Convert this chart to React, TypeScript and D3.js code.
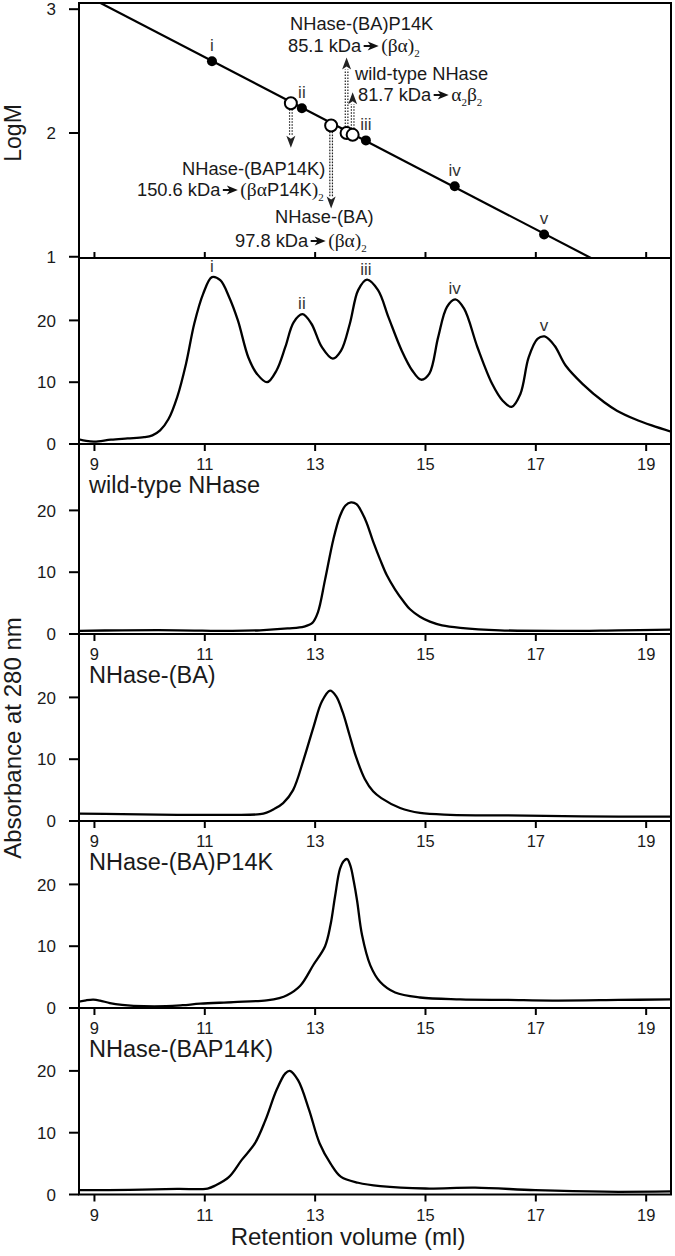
import React, { useLayoutEffect, useRef, useState } from 'react';
import * as d3 from 'd3';

// ---------- data ----------
const xTicks = [9, 11, 13, 15, 17, 19];
const logMTicks = [1, 2, 3];
const absTicks = [0, 10, 20];

const standardNames = ['i', 'ii', 'iii', 'iv', 'v'];
const standardVolumes = [11.13, 12.76, 13.92, 15.53, 17.15];
const standardLogM = [2.58, 2.2, 1.94, 1.57, 1.18];
const standardPeakHeights = [27.0, 21.0, 26.6, 23.4, 17.4];

const sampleNames = ['NHase-(BAP14K)', 'NHase-(BA)', 'NHase-(BA)P14K', 'wild-type NHase'];
const sampleMasses = ['150.6', '97.8', '85.1', '81.7'];
const sampleForms = ['(βαP14K)_2', '(βα)_2', '(βα)_2', 'α_2β_2'];
const sampleVolumes = [12.56, 13.29, 13.57, 13.68];
const sampleLogM = [2.24, 2.06, 2.0, 1.985];
const arrowTipLogM = [1.88, 1.39, 2.61, 2.33];

const standardsTrace: [number, number][] = [
  [8.7, 0.8], [8.85, 0.5], [9.0, 0.4], [9.3, 0.7], [9.6, 0.9], [9.9, 1.1], [10.05, 1.4], [10.19, 2.2],
  [10.34, 4.0], [10.5, 7.6], [10.66, 13.0], [10.81, 19.5], [10.97, 24.3], [11.13, 27.0], [11.28, 26.5],
  [11.44, 23.8], [11.6, 20.0], [11.79, 14.0], [11.95, 11.3], [12.13, 10.0], [12.3, 11.9], [12.46, 15.7],
  [12.61, 19.7], [12.77, 21.0], [12.93, 19.5], [13.12, 15.7], [13.32, 13.8], [13.47, 15.1], [13.63, 19.5],
  [13.78, 24.9], [13.94, 26.6], [14.14, 24.9], [14.33, 20.5], [14.57, 15.1], [14.76, 11.9], [14.92, 10.4],
  [15.07, 11.4], [15.23, 17.3], [15.39, 22.2], [15.54, 23.4], [15.7, 21.9], [15.94, 15.7], [16.21, 9.7],
  [16.4, 7.0], [16.56, 6.0], [16.72, 8.1], [16.87, 14.0], [17.03, 17.0], [17.16, 17.4], [17.34, 15.9],
  [17.54, 12.7], [17.85, 9.7], [18.24, 6.75], [18.47, 5.4], [18.79, 4.05], [19.1, 3.0], [19.45, 2.0],
];

const wildTypeTrace: [number, number][] = [
  [8.7, 0.5], [9.5, 0.6], [10.5, 0.6], [11.5, 0.5], [12.0, 0.6], [12.5, 0.9], [12.8, 1.2], [12.95, 1.8],
  [13.05, 3.5], [13.18, 8.8], [13.33, 15.3], [13.45, 19.1], [13.55, 20.8], [13.65, 21.3], [13.75, 21.0],
  [13.91, 18.5], [14.05, 15.0], [14.18, 12.0], [14.3, 9.5], [14.45, 7.2], [14.6, 5.3], [14.72, 4.0],
  [14.9, 2.8], [15.08, 2.0], [15.3, 1.4], [15.63, 1.0], [16.35, 0.6], [17.5, 0.5], [18.5, 0.6], [19.45, 0.7],
];

const baTrace: [number, number][] = [
  [8.7, 1.2], [9.5, 1.1], [10.5, 1.0], [11.5, 1.0], [12.0, 1.1], [12.12, 1.35], [12.25, 1.9], [12.42, 2.9],
  [12.6, 5.0], [12.79, 9.9], [12.97, 15.2], [13.12, 19.3], [13.27, 21.1], [13.38, 20.2], [13.5, 17.6],
  [13.62, 14.0], [13.74, 10.4], [13.9, 6.8], [14.05, 4.8], [14.2, 3.7], [14.54, 2.1], [14.9, 1.3],
  [15.45, 1.0], [16.5, 0.9], [17.5, 0.8], [18.5, 0.7], [19.45, 0.7],
];

const baP14kTrace: [number, number][] = [
  [8.7, 1.0], [8.85, 1.25], [8.98, 1.35], [9.1, 1.2], [9.28, 0.8], [9.5, 0.5], [9.71, 0.35], [10.3, 0.3],
  [10.6, 0.45], [10.92, 0.7], [11.52, 0.95], [12.12, 1.25], [12.35, 1.6], [12.49, 2.05], [12.73, 3.6],
  [12.97, 7.0], [13.18, 10.0], [13.28, 13.5], [13.36, 18.0], [13.45, 22.5], [13.52, 23.8], [13.58, 24.1],
  [13.64, 23.0], [13.7, 20.5], [13.76, 17.4], [13.85, 11.8], [14.0, 6.9], [14.18, 4.2], [14.45, 2.5],
  [14.9, 1.7], [15.63, 1.4], [16.5, 1.3], [17.3, 1.2], [18.5, 1.3], [19.45, 1.4],
];

const bap14kTrace: [number, number][] = [
  [8.7, 0.7], [9.64, 0.75], [10.5, 0.9], [11.05, 0.97], [11.2, 1.5], [11.44, 2.85], [11.67, 5.6],
  [11.91, 8.3], [12.1, 12.05], [12.3, 16.9], [12.46, 19.6], [12.54, 20.0], [12.69, 18.5], [12.89, 13.7],
  [13.08, 8.3], [13.28, 5.0], [13.47, 2.85], [13.78, 1.9], [14.18, 1.35], [15.0, 0.97], [15.9, 1.1],
  [16.99, 0.7], [18.24, 0.45], [19.45, 0.5],
];

const traces = [standardsTrace, wildTypeTrace, baTrace, baP14kTrace, bap14kTrace];
const panelLabels = ['', 'wild-type NHase', 'NHase-(BA)', 'NHase-(BA)P14K', 'NHase-(BAP14K)'];

// ---------- layout ----------
const W = 675;
const H = 1256;
const PLOT_LEFT = 79;
const PLOT_RIGHT = 671;
const X_DOMAIN = [8.72, 19.45];
const LOG_TOP = 3;
const LOG_BOTTOM = 258;
const LOGM_DOMAIN = [0.99, 3.05];
const CHROM_BOTTOMS = [444, 634, 821, 1008, 1194.5];
const PX_PER_UNIT = 6.18;

const SANS = "'Liberation Sans', Arial, Helvetica, sans-serif";
const SERIF = "'Liberation Serif', 'Times New Roman', serif";
const TEXT = '#1a1a1a';
const ANN_FS = 18.3;

// annotation text layout (pixel positions of text lines)
const annotLayout = [
  { l1x: 182, l1y: 175, l2x: 137, l2y: 196 },
  { l1x: 275, l1y: 223, l2x: 235, l2y: 247 },
  { l1x: 290, l1y: 30, l2x: 288, l2y: 52 },
  { l1x: 355, l1y: 80, l2x: 358, l2y: 101 },
];

function renderForm(form: string) {
  const parts: { t: string; kind: 'sans' | 'serif' | 'sub' }[] = [];
  for (let i = 0; i < form.length; i++) {
    let c = form[i];
    let kind: 'sans' | 'serif' | 'sub';
    if (c === '_') {
      i++;
      c = form[i];
      kind = 'sub';
    } else if ('αβ()'.includes(c)) kind = 'serif';
    else kind = 'sans';
    const last = parts[parts.length - 1];
    if (last && last.kind === kind) last.t += c;
    else parts.push({ t: c, kind });
  }
  let shift = 0;
  return parts.map((p, j) => {
    const target = p.kind === 'sub' ? 5 : 0;
    const dy = target - shift;
    shift = target;
    return (
      <tspan
        key={j}
        dy={dy}
        fontFamily={p.kind === 'sans' ? SANS : SERIF}
        fontSize={p.kind === 'sub' ? 11 : p.kind === 'serif' ? 19.5 : ANN_FS}
      >
        {p.t}
      </tspan>
    );
  });
}

function Annotation({ i }: { i: number }) {
  const L = annotLayout[i];
  const massRef = useRef<SVGTextElement>(null);
  const label = `${sampleMasses[i]} kDa`;
  const [w, setW] = useState(label.length * ANN_FS * 0.5);
  useLayoutEffect(() => {
    if (massRef.current) setW(massRef.current.getComputedTextLength());
  }, []);
  const ax = L.l2x + w + 2.5;
  const ay = L.l2y - 6;
  return (
    <g fill={TEXT}>
      <text x={L.l1x} y={L.l1y} fontSize={ANN_FS}>
        {sampleNames[i]}
      </text>
      <text ref={massRef} x={L.l2x} y={L.l2y} fontSize={ANN_FS}>
        {label}
      </text>
      <line x1={ax} x2={ax + 8} y1={ay} y2={ay} stroke="#111" strokeWidth={2} />
      <path d={`M${ax + 4},${ay - 4.5} L${ax + 15},${ay} L${ax + 4},${ay + 4.5} L${ax + 7},${ay} Z`} fill="#111" />
      <text x={ax + 17.5} y={L.l2y} fontSize={ANN_FS}>
        {renderForm(sampleForms[i])}
      </text>
    </g>
  );
}

export default function App() {
  const x = d3.scaleLinear().domain(X_DOMAIN).range([PLOT_LEFT, PLOT_RIGHT]);
  const yLog = d3.scaleLinear().domain(LOGM_DOMAIN).range([LOG_BOTTOM, LOG_TOP]);

  // linear regression of standards
  const mx = d3.mean(standardVolumes) as number;
  const my = d3.mean(standardLogM) as number;
  let sxy = 0;
  let sxx = 0;
  standardVolumes.forEach((v, i) => {
    sxy += (v - mx) * (standardLogM[i] - my);
    sxx += (v - mx) * (v - mx);
  });
  const slope = sxy / sxx;
  const intercept = my - slope * mx;
  const fitLine = d3
    .line<number>()
    .x((d) => x(d))
    .y((d) => yLog(intercept + slope * d))([8.0, 20.0]);

  const panels = CHROM_BOTTOMS.map((bottom, i) => {
    const top = i === 0 ? LOG_BOTTOM : CHROM_BOTTOMS[i - 1];
    const y = d3
      .scaleLinear()
      .domain([0, (bottom - top) / PX_PER_UNIT])
      .range([bottom, top]);
    return { top, bottom, y };
  });

  const R_OPEN = 6;
  const HEAD_LEN = 12;
  const HEAD_W = 4.5;

  return (
    <div style={{ position: 'absolute', left: 0, top: 0 }}>
      <svg width={W} height={H} style={{ display: 'block' }} fontFamily={SANS}>
        <rect width={W} height={H} fill="#fff" />
        <defs>
          <clipPath id="clip-log">
            <rect x={PLOT_LEFT} y={LOG_TOP} width={PLOT_RIGHT - PLOT_LEFT} height={LOG_BOTTOM - LOG_TOP} />
          </clipPath>
          {panels.map((p, i) => (
            <clipPath id={`clip-${i}`} key={i}>
              <rect x={PLOT_LEFT} y={p.top} width={PLOT_RIGHT - PLOT_LEFT} height={p.bottom - p.top} />
            </clipPath>
          ))}
        </defs>

        {/* ---------- top panel: LogM calibration ---------- */}
        <g clipPath="url(#clip-log)">
          <path d={fitLine || ''} fill="none" stroke="#000" strokeWidth={2.2} />
        </g>

        {/* dotted arrows */}
        {sampleVolumes.map((v, i) => {
          const cx = x(v);
          const cy = yLog(sampleLogM[i]);
          const tip = yLog(arrowTipLogM[i]);
          const down = tip > cy;
          const start = down ? cy + R_OPEN : cy - R_OPEN;
          const baseY = down ? tip - HEAD_LEN : tip + HEAD_LEN;
          return (
            <g key={`arr-${i}`}>
              {[-1.3, 1.3].map((o) => (
                <line
                  key={o}
                  x1={cx + o}
                  x2={cx + o}
                  y1={start}
                  y2={baseY}
                  stroke="#222"
                  strokeWidth={1.2}
                  strokeDasharray="1.6,1.4"
                />
              ))}
              <path
                d={`M${cx - HEAD_W},${baseY} L${cx},${tip} L${cx + HEAD_W},${baseY} L${cx},${baseY + (down ? 3 : -3)} Z`}
                fill="#222"
              />
            </g>
          );
        })}

        {/* standards points */}
        {standardVolumes.map((v, i) => (
          <g key={`std-${i}`}>
            <circle cx={x(v)} cy={yLog(standardLogM[i])} r={5} fill="#000" />
            <text
              x={x(v)}
              y={yLog(standardLogM[i]) - 10}
              textAnchor="middle"
              fontSize={17}
              fill="#333"
            >
              {standardNames[i]}
            </text>
          </g>
        ))}

        {/* samples open circles */}
        {sampleVolumes.map((v, i) => (
          <circle
            key={`smp-${i}`}
            cx={x(v)}
            cy={yLog(sampleLogM[i])}
            r={R_OPEN}
            fill="#fff"
            stroke="#000"
            strokeWidth={2}
          />
        ))}

        {/* annotations */}
        {sampleNames.map((_, i) => (
          <Annotation key={`ann-${i}`} i={i} />
        ))}

        {/* top panel frame & axes */}
        <rect
          x={PLOT_LEFT}
          y={LOG_TOP}
          width={PLOT_RIGHT - PLOT_LEFT}
          height={LOG_BOTTOM - LOG_TOP}
          fill="none"
          stroke="#000"
          strokeWidth={2}
        />
        {logMTicks.map((t) => (
          <g key={`lt-${t}`}>
            <line x1={PLOT_LEFT - 10} x2={PLOT_LEFT} y1={yLog(t)} y2={yLog(t)} stroke="#000" strokeWidth={2} />
            <text x={PLOT_LEFT - 23} y={yLog(t)} dy="0.36em" textAnchor="end" fontSize={17} fill={TEXT}>
              {t}
            </text>
          </g>
        ))}
        {xTicks.map((t) => (
          <line
            key={`lxt-${t}`}
            x1={x(t)}
            x2={x(t)}
            y1={LOG_BOTTOM}
            y2={LOG_BOTTOM - 6}
            stroke="#000"
            strokeWidth={2}
          />
        ))}
        <text
          transform={`translate(20.5, ${yLog(2)}) rotate(-90)`}
          textAnchor="middle"
          fontSize={23}
          fill={TEXT}
        >
          LogM
        </text>

        {/* ---------- chromatogram panels ---------- */}
        {panels.map((p, i) => {
          const line = d3
            .line<[number, number]>()
            .x((d) => x(d[0]))
            .y((d) => p.y(d[1]))
            .curve(d3.curveCatmullRom.alpha(0.5));
          return (
            <g key={`panel-${i}`}>
              <g clipPath={`url(#clip-${i})`}>
                <path d={line(traces[i]) || ''} fill="none" stroke="#000" strokeWidth={2.3} strokeLinejoin="round" />
              </g>
              {i === 0 &&
                standardVolumes.map((v, k) => (
                  <text
                    key={`pl-${k}`}
                    x={x(v)}
                    y={p.y(standardPeakHeights[k]) - 5}
                    textAnchor="middle"
                    fontSize={17}
                    fill="#333"
                  >
                    {standardNames[k]}
                  </text>
                ))}
              {panelLabels[i] && (
                <text x={89} y={p.top + 49} fontSize={23.5} fill={TEXT}>
                  {panelLabels[i]}
                </text>
              )}
              <rect
                x={PLOT_LEFT}
                y={p.top}
                width={PLOT_RIGHT - PLOT_LEFT}
                height={p.bottom - p.top}
                fill="none"
                stroke="#000"
                strokeWidth={2}
              />
              {absTicks.map((t) => (
                <g key={`at-${t}`}>
                  <line x1={PLOT_LEFT - 10} x2={PLOT_LEFT} y1={p.y(t)} y2={p.y(t)} stroke="#000" strokeWidth={2} />
                  <text x={PLOT_LEFT - 23} y={p.y(t)} dy="0.36em" textAnchor="end" fontSize={17} fill={TEXT}>
                    {t}
                  </text>
                </g>
              ))}
              {xTicks.map((t) => (
                <g key={`xt-${t}`}>
                  <line x1={x(t)} x2={x(t)} y1={p.bottom} y2={p.bottom + 7} stroke="#000" strokeWidth={2} />
                  <text x={x(t)} y={p.bottom + 26} textAnchor="middle" fontSize={16.5} fill={TEXT}>
                    {t}
                  </text>
                </g>
              ))}
            </g>
          );
        })}

        {/* axis titles */}
        <text
          transform={`translate(20.5, 738) rotate(-90)`}
          textAnchor="middle"
          fontSize={24}
          fill={TEXT}
        >
          Absorbance at 280 nm
        </text>
        <text x={(PLOT_LEFT + PLOT_RIGHT) / 2 - 27} y={1245} textAnchor="middle" fontSize={24} fill={TEXT}>
          Retention volume (ml)
        </text>
      </svg>
    </div>
  );
}
